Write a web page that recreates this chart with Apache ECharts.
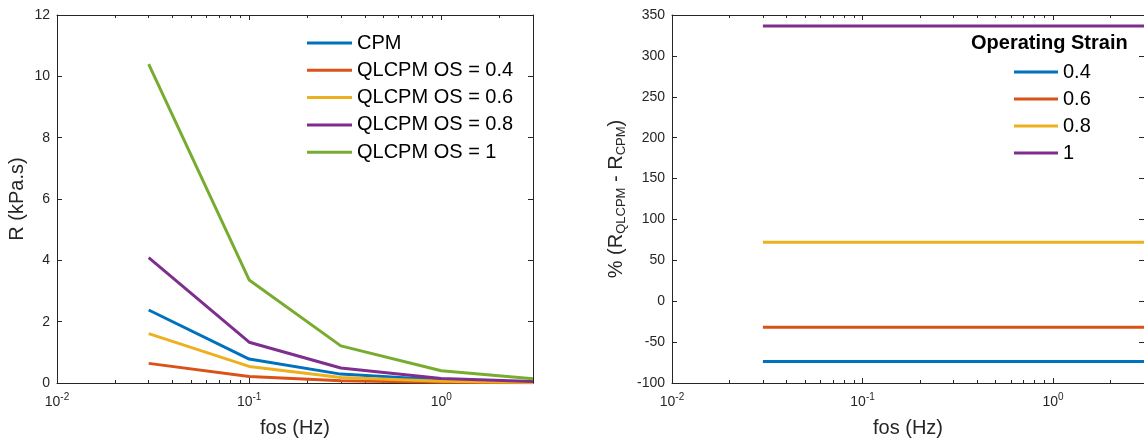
<!DOCTYPE html>
<html><head><meta charset="utf-8">
<script src="https://cdn.jsdelivr.net/npm/echarts@6/dist/echarts.min.js"></script>
<style>html,body{margin:0;padding:0;background:#fff}#c{width:1144px;height:443px}</style>
</head><body><div id="c"></div>
<script>
// ---- data ----
const freq = [0.03, 0.1, 0.3, 1, 3];
const leftNames = ['CPM', 'QLCPM OS = 0.4', 'QLCPM OS = 0.6', 'QLCPM OS = 0.8', 'QLCPM OS = 1'];
const rCPM  = [2.38, 0.78, 0.29, 0.10, 0.03];
const rOS04 = [0.64, 0.21, 0.07, 0.025, 0.008];
const rOS06 = [1.61, 0.54, 0.18, 0.06, 0.02];
const rOS08 = [4.09, 1.33, 0.49, 0.15, 0.05];
const rOS1  = [10.4, 3.36, 1.21, 0.40, 0.14];
const strainNames = ['0.4', '0.6', '0.8', '1'];
const pct04 = [-73.7, -73.7, -73.7, -73.7, -73.7];
const pct06 = [-31.8, -31.8, -31.8, -31.8, -31.8];
const pct08 = [72, 72, 72, 72, 72];
const pct1  = [336.5, 336.5, 336.5, 336.5, 336.5];
const xMajorExps = [-2, -1, 0];
const xMinorMult = [2, 3, 4, 5, 6, 7, 8, 9];

// ---- helpers ----
const colors = ['#0072BD', '#D95319', '#EDB120', '#7E2F8E', '#77AC30'];
const FONT = '"Liberation Sans", Arial, sans-serif';
const AX = '#262626';
const XMIN = 0.01, XMAX = 3;
const LMIN = Math.log10(XMIN), LMAX = Math.log10(XMAX);
const minorLog = [];
xMajorExps.forEach(e => xMinorMult.forEach(m => { const v = Math.log10(m) + e; if (v < LMAX) minorLog.push(v); }));

const pairs = (ys) => freq.map((f, i) => [f, ys[i]]);
const lineOn = { show: true, onZero: false, lineStyle: { color: AX, width: 1 } };
const lineOff = { show: false, onZero: false };

function xAxesFor(gi) {
  return [
    { gridIndex: gi, type: 'log', logBase: 10, min: XMIN, max: XMAX, position: 'bottom',
      axisLine: lineOn,
      axisTick: { show: true, inside: true, length: 5, lineStyle: { color: AX } },
      splitLine: { show: false }, minorTick: { show: false },
      axisLabel: { margin: 12, color: AX, showMaxLabel: false,
        formatter: v => { const e = Math.log10(v); if (Math.abs(e - Math.round(e)) > 1e-6) return ''; return '{b|10}{s|' + Math.round(e) + '}'; },
        rich: { b: { fontSize: 14, lineHeight: 14, color: AX, fontFamily: FONT },
                s: { fontSize: 10, lineHeight: 10, padding: [0, 0, 9, 0], color: AX, fontFamily: FONT } } },
      name: 'fos (Hz)', nameLocation: 'middle', nameGap: 35,
      nameTextStyle: { fontSize: 20, color: AX, fontFamily: FONT } },
    { gridIndex: gi, type: 'value', min: LMIN, max: LMAX, position: 'bottom',
      axisLine: lineOff, splitLine: { show: false }, axisLabel: { show: false },
      axisTick: { show: true, inside: true, length: 3, customValues: minorLog, lineStyle: { color: AX } } },
    { gridIndex: gi, type: 'value', min: LMIN, max: LMAX, interval: 1, position: 'top',
      axisLine: lineOn, splitLine: { show: false }, axisLabel: { show: false },
      axisTick: { show: true, inside: true, length: 5, lineStyle: { color: AX } } },
    { gridIndex: gi, type: 'value', min: LMIN, max: LMAX, position: 'top',
      axisLine: lineOff, splitLine: { show: false }, axisLabel: { show: false },
      axisTick: { show: true, inside: true, length: 3, customValues: minorLog, lineStyle: { color: AX } } }
  ];
}
function yAxesFor(gi, min, max, interval, name, rich) {
  return [
    { gridIndex: gi, type: 'value', min, max, interval, position: 'left',
      axisLine: lineOn,
      axisTick: { show: true, inside: true, length: 5, lineStyle: { color: AX } },
      splitLine: { show: false },
      axisLabel: { margin: 7, fontSize: 14, color: AX, fontFamily: FONT },
      name, nameLocation: 'middle', nameRotate: 90, nameGap: gi === 0 ? 30 : 46,
      nameTextStyle: Object.assign({ fontSize: 20, color: AX, fontFamily: FONT }, rich ? { rich } : {}) },
    { gridIndex: gi, type: 'value', min, max, interval, position: 'right',
      axisLine: lineOn,
      axisTick: { show: true, inside: true, length: 5, lineStyle: { color: AX } },
      splitLine: { show: false }, axisLabel: { show: false } }
  ];
}

const lineSeries = (name, data, color, xi, yi) => ({
  name, type: 'line', data: pairs(data), xAxisIndex: xi, yAxisIndex: yi,
  showSymbol: false, symbol: 'none', color, lineStyle: { color, width: 3 }, itemStyle: { color },
  animation: false, z: 3
});

const rightRich = {
  m: { fontSize: 20, lineHeight: 20, color: AX, fontFamily: FONT },
  sub: { fontSize: 13, lineHeight: 13, padding: [11, 0, 0, 0], color: AX, fontFamily: FONT }
};

const option = {
  animation: false,
  backgroundColor: '#fff',
  textStyle: { fontFamily: FONT },
  grid: [
    { left: 57, top: 15, width: 476, height: 369, containLabel: false },
    { left: 672, top: 15, width: 475, height: 369, containLabel: false }
  ],
  title: { text: 'Operating Strain', left: 971, top: 33, padding: 0,
    textStyle: { fontSize: 20, fontWeight: 'bold', color: '#000', fontFamily: FONT } },
  legend: [
    { data: leftNames, orient: 'vertical', left: 307, top: 33, itemWidth: 45, itemHeight: 3, icon: 'rect',
      itemGap: 7.3, padding: 0, textStyle: { fontSize: 20, color: '#000', fontFamily: FONT } },
    { data: strainNames, orient: 'vertical', left: 1014, top: 62, itemWidth: 44, itemHeight: 3, icon: 'rect',
      itemGap: 7, padding: 0, textStyle: { fontSize: 20, color: '#000', fontFamily: FONT } }
  ],
  xAxis: [...xAxesFor(0), ...xAxesFor(1)],
  yAxis: [...yAxesFor(0, 0, 12, 2, 'R (kPa.s)'),
          ...yAxesFor(1, -100, 350, 50, '{m|% (R}{sub|QLCPM}{m| - R}{sub|CPM}{m|)}', rightRich)],
  series: [
    lineSeries(leftNames[0], rCPM, colors[0], 0, 0),
    lineSeries(leftNames[1], rOS04, colors[1], 0, 0),
    lineSeries(leftNames[2], rOS06, colors[2], 0, 0),
    lineSeries(leftNames[3], rOS08, colors[3], 0, 0),
    lineSeries(leftNames[4], rOS1, colors[4], 0, 0),
    lineSeries(strainNames[0], pct04, colors[0], 4, 2),
    lineSeries(strainNames[1], pct06, colors[1], 4, 2),
    lineSeries(strainNames[2], pct08, colors[2], 4, 2),
    lineSeries(strainNames[3], pct1, colors[3], 4, 2)
  ]
};
const chart = echarts.init(document.getElementById('c'), null, { renderer: 'canvas' });
chart.setOption(option);
</script></body></html>
